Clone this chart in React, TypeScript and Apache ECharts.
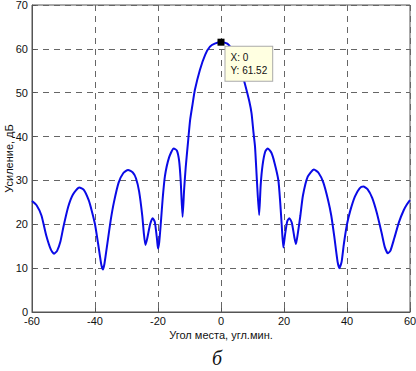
import React, { useEffect, useRef } from "react";
import * as echarts from "echarts";

const angles: number[] = [
  -60, -58.5, -57, -55.5, -54, -53, -52, -51, -50, -48.5, -47, -45, -43.5, -42, -41, -40,
  -39, -38, -37.5, -37, -36, -35, -34, -32.5, -31, -29.5, -28, -27, -26, -25, -24.5, -24,
  -23.5, -22.5, -21.7, -21, -20.3, -20, -19.6, -19.1, -18.5, -17.8, -16.5, -15, -14, -13.3,
  -12.8, -12.2, -11.7, -11.2, -10.5, -9.8, -9, -8.3, -6.7, -5, -3.5, -2, 0,
  2, 3.5, 5, 6.5, 7.6, 9, 9.7, 10.3, 10.8, 11.4, 12.1, 12.6, 13.2, 14, 14.8, 16, 17, 18.2,
  18.8, 19.3, 19.8, 20.3, 21, 21.7, 22.5, 23.3, 23.8, 24.4, 25.2, 26, 27.5, 29.5, 31, 32.5,
  34, 35, 36, 37, 37.6, 38.3, 39, 40, 41, 42.5, 44, 45.2, 46.5, 48, 49.5, 51, 52, 53, 53.8,
  55, 56.5, 58, 59, 60,
];

const gainDb: number[] = [
  25.3, 24.3, 22, 17.5, 14.2, 13.3, 14.0, 16, 19.5, 24, 26.8, 28.4, 27.8, 25.5, 23, 20,
  15.5, 10.8, 9.7, 11, 16, 21, 25, 29.5, 31.7, 32.4, 31.8, 30.5, 27.5, 22, 18, 15.3,
  16.5, 20, 21.4, 20.5, 16.5, 14.5, 16, 20.3, 26, 31, 35.2, 37.3, 36.8, 34.5,
  30, 21.7, 28, 33, 38.5, 43.8, 47.5, 50.6, 55.2, 58.7, 60.5, 61.2, 61.52,
  61.2, 59.8, 57.5, 54.8, 52, 48, 45.3, 41, 37.7, 30, 22.1, 29, 33.5, 36.5, 37.3, 36.3, 34, 30.1,
  25, 19.5, 14.7, 17.5, 20.6, 21.4, 20.3, 17, 15.5, 18, 22, 26.5, 30.8, 32.5, 31.7, 29.5,
  25.5, 22, 17, 11.5, 10, 11.5, 15.5, 20, 23, 26.3, 28.2, 28.6, 28, 26, 22.5, 18, 14.8, 13.4, 14,
  16.8, 20.5, 23.2, 24.5, 25.5,
];

const peakX = 0;
const peakY = 61.52;

export default function App() {
  const ref = useRef<HTMLDivElement>(null);
  useEffect(() => {
    if (!ref.current) return;
    const chart = echarts.init(ref.current, undefined, { renderer: "svg" });
    const font = "Liberation Sans, Arial, sans-serif";
    const data = angles.map((a, i) => [a, gainDb[i]]);
    chart.setOption({
      animation: false,
      backgroundColor: "#ffffff",
      grid: {
        left: 32,
        right: 6,
        top: 5,
        bottom: 59,
        containLabel: false,
        outerBoundsMode: "none",
        show: true,
        borderColor: "#555",
        borderWidth: 1,
      },
      xAxis: {
        type: "value",
        min: -60,
        max: 60,
        interval: 20,
        name: "Угол места, угл.мин.",
        nameLocation: "middle",
        nameGap: 17,
        nameMoveOverlap: false,
        nameTextStyle: { color: "#111", fontSize: 11, fontFamily: font },
        axisLine: { onZero: false, lineStyle: { color: "#555" } },
        axisTick: { inside: true, length: 4, lineStyle: { color: "#555" } },
        axisLabel: { color: "#111", fontSize: 11, fontFamily: font, margin: 3 },
        splitLine: { show: true, lineStyle: { color: "#666", type: [6, 5], width: 1 } },
      },
      yAxis: {
        type: "value",
        min: 0,
        max: 70,
        interval: 10,
        name: "Усиление, дБ",
        nameLocation: "middle",
        nameGap: 18,
        nameMoveOverlap: false,
        nameTextStyle: { color: "#111", fontSize: 11, fontFamily: font },
        axisLine: { show: true, onZero: false, lineStyle: { color: "#555" } },
        axisTick: { show: true, inside: true, length: 4, lineStyle: { color: "#555" } },
        axisLabel: { color: "#111", fontSize: 11, fontFamily: font, margin: 4 },
        splitLine: { show: true, lineStyle: { color: "#666", type: [6, 5], width: 1 } },
      },
      series: [
        {
          type: "line",
          data,
          showSymbol: false,
          smooth: 0.2,
          lineStyle: { color: "#0a0ae6", width: 2 },
          markPoint: {
            symbol: "rect",
            symbolSize: 7,
            itemStyle: { color: "#000" },
            data: [{ coord: [peakX, peakY] }],
            label: {
              show: true,
              position: [8, 8],
              formatter: `X: ${peakX}\nY: ${peakY}`,
              color: "#111",
              fontSize: 10,
              fontFamily: font,
              lineHeight: 13,
              backgroundColor: "#ffffe1",
              borderColor: "#aaa",
              borderWidth: 1,
              padding: [4, 5, 4, 5],
            },
          },
        },
      ],
      graphic: [
        {
          type: "text",
          left: 212,
          top: 348,
          style: {
            text: "б",
            fontSize: 20,
            fontStyle: "italic",
            fontFamily: "Liberation Serif, Times New Roman, serif",
            fill: "#111",
          },
        },
      ],
    });
    return () => chart.dispose();
  }, []);
  return (
    <div
      ref={ref}
      style={{ position: "fixed", left: 0, top: 0, width: 416, height: 371 }}
    />
  );
}
